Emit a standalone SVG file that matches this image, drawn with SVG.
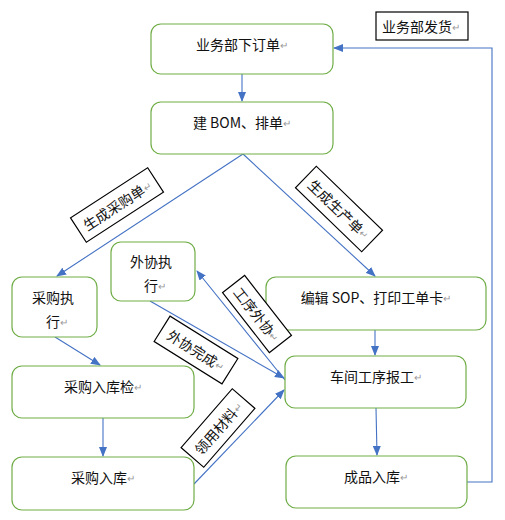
<svg xmlns="http://www.w3.org/2000/svg" width="505" height="520" viewBox="0 0 505 520">
<defs>
<marker id="ah" markerWidth="10" markerHeight="8" refX="9" refY="4" orient="auto" markerUnits="userSpaceOnUse">
<path d="M0,0 L10,4 L0,8 Z" fill="#4472C4"/>
</marker>
<style>
.node{fill:#fff;stroke:#70AD47;stroke-width:1.2}
.t{font-family:"Noto Sans CJK SC","Microsoft YaHei",sans-serif;font-size:14px;fill:#111;text-anchor:middle;dominant-baseline:central}
.r{font-size:10px;fill:#999}
.lb{fill:#fff;stroke:#000;stroke-width:1.2}
.c{fill:none;stroke:#4472C4;stroke-width:1.1;marker-end:url(#ah)}
</style>
</defs>
<rect width="505" height="520" fill="#fff"/>
<g id="connectors">
<line class="c" x1="242" y1="74" x2="242" y2="101"/>
<line class="c" x1="243" y1="154" x2="57" y2="276"/>
<line class="c" x1="243" y1="154" x2="375" y2="276"/>
<line class="c" x1="375" y1="330" x2="375" y2="355"/>
<line class="c" x1="55" y1="337" x2="100" y2="365"/>
<line class="c" x1="103" y1="418" x2="103" y2="456"/>
<line class="c" x1="285" y1="380" x2="197" y2="271"/>
<line class="c" x1="150" y1="301" x2="284" y2="378"/>
<line class="c" x1="194" y1="484" x2="284" y2="390"/>
<line class="c" x1="376" y1="408" x2="377" y2="455"/>
<polyline class="c" points="467,482 492,482 492,48 334,48"/>
</g>
<g id="n1"><rect class="node" x="151" y="24" width="182" height="50" rx="10"/><text class="t" x="242" y="44">业务部下订单<tspan class="r">↵</tspan></text></g>
<g id="n2"><rect class="node" x="151" y="102" width="182" height="52" rx="10"/><text class="t" x="242" y="122">建 BOM、排单<tspan class="r">↵</tspan></text></g>
<g id="n3"><rect class="node" x="12" y="277" width="85" height="60" rx="10"/><text class="t" x="53" y="297">采购执</text><text class="t" x="57" y="321">行<tspan class="r">↵</tspan></text></g>
<g id="n4"><rect class="node" x="111" y="242" width="84" height="59" rx="10"/><text class="t" x="151" y="261">外协执</text><text class="t" x="155" y="285">行<tspan class="r">↵</tspan></text></g>
<g id="n5"><rect class="node" x="266" y="277" width="220" height="53" rx="10"/><text class="t" x="376" y="297">编辑 SOP、打印工单卡<tspan class="r">↵</tspan></text></g>
<g id="n6"><rect class="node" x="12" y="366" width="182" height="52" rx="10"/><text class="t" x="103" y="386">采购入库检<tspan class="r">↵</tspan></text></g>
<g id="n7"><rect class="node" x="285" y="356" width="181" height="52" rx="10"/><text class="t" x="376" y="376">车间工序报工<tspan class="r">↵</tspan></text></g>
<g id="n8"><rect class="node" x="12" y="457" width="182" height="53" rx="10"/><text class="t" x="103" y="477">采购入库<tspan class="r">↵</tspan></text></g>
<g id="n9"><rect class="node" x="286" y="456" width="181" height="52" rx="10"/><text class="t" x="376" y="476">成品入库<tspan class="r">↵</tspan></text></g>
<g id="labels">
<g transform="translate(117,205) rotate(-33)"><rect class="lb" x="-46" y="-14.5" width="92" height="29"/><text class="t" x="0" y="0">生成采购单<tspan class="r">↵</tspan></text></g>
<g transform="translate(339,209) rotate(44)"><rect class="lb" x="-46" y="-15" width="92" height="30"/><text class="t" x="0" y="0">生成生产单<tspan class="r">↵</tspan></text></g>
<g transform="translate(257,314) rotate(52)"><rect class="lb" x="-38" y="-14" width="76" height="28"/><text class="t" x="0" y="0">工序外协<tspan class="r">↵</tspan></text></g>
<g transform="translate(196,350) rotate(32)"><rect class="lb" x="-40" y="-15" width="80" height="30"/><text class="t" x="0" y="0">外协完成<tspan class="r">↵</tspan></text></g>
<g transform="translate(218,428) rotate(-49)"><rect class="lb" x="-39" y="-15" width="78" height="30"/><text class="t" x="0" y="0">领用材料<tspan class="r">↵</tspan></text></g>
<g><rect class="lb" x="376" y="12" width="92" height="28"/><text class="t" x="421" y="26">业务部发货<tspan class="r">↵</tspan></text></g>
</g>
</svg>
